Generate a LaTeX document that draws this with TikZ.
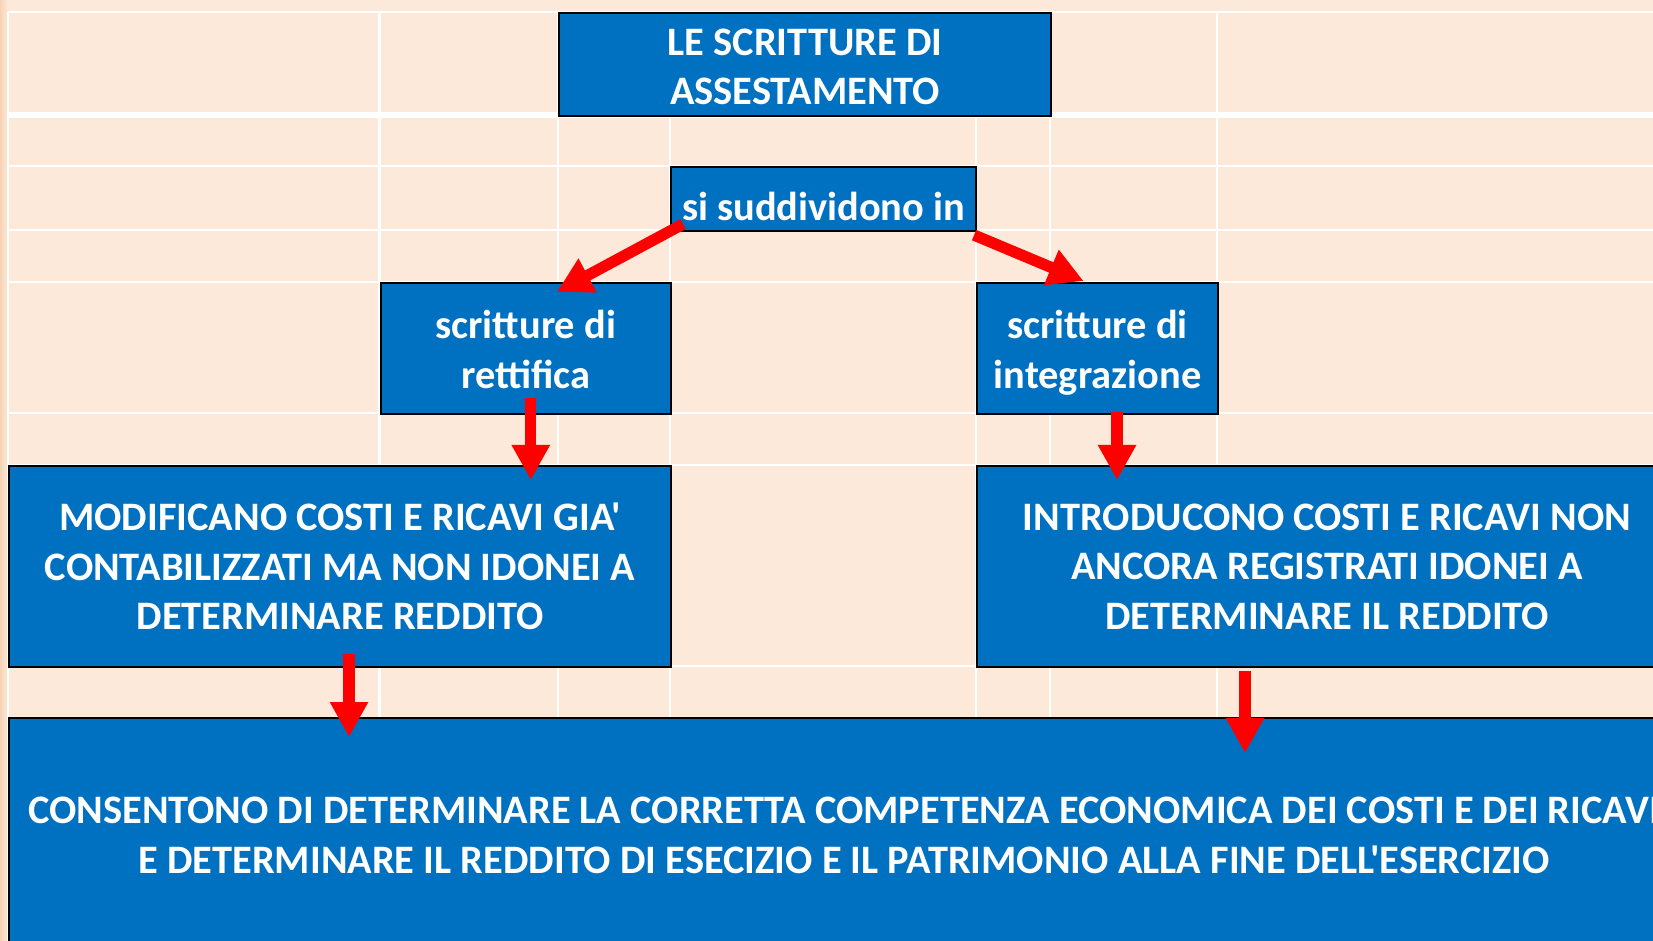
\documentclass[tikz,border=0pt]{standalone}
\usepackage{fontspec}
\setmainfont{Carlito}[Ligatures=TeXOff]
\usepackage{tikz}
\usetikzlibrary{calc,arrows.meta}
\definecolor{xlblue}{HTML}{0070C0}
\definecolor{xlred}{HTML}{FF0000}
\definecolor{peach}{HTML}{FDE9D9}
\definecolor{peachedge}{HTML}{F8D2B6}
\tikzstyle{cell} = [draw=black, line width=0.6pt, fill=xlblue, text=white, font=\fontsize{11.5}{14.1}\selectfont\bfseries, align=center, inner sep=0pt, anchor=north west]
\tikzstyle{gridline} = [draw=white, line width=0.7pt]
\tikzstyle{redarrow} = [->, draw=xlred, fill=xlred, line width=3.2pt]

\begin{document}
\begin{tikzpicture}[x=0.1mm,y=-0.1mm,>={Triangle[length=3.5mm,width=3.6mm]}]
		\clip (0,0) rectangle (1653,941);
		\fill[peach] (0,0) rectangle (1653,941);
		\shade[left color=peachedge, right color=peach] (0,0) rectangle (8,941);
		\foreach \gx in {8,379.5,558,670,976,1050,1217}
			\draw[gridline] (\gx,12) -- (\gx,941);
		\foreach \gy in {12,166,230,282,413,465,666,719}
			\draw[gridline] (8,\gy) -- (1653,\gy);
		\draw[gridline, line width=1.7pt] (8,115) -- (1653,115);
		
		\node (top) [cell, text height=22.8pt, text depth=0pt, minimum width=49.2mm, minimum height=10.3mm] at (558,12) {LE SCRITTURE DI\\ASSESTAMENTO};
		\node (split) [cell, text height=12.1pt, minimum width=30.5mm, minimum height=6.4mm] at (670,166) {si suddividono in};
		\node (rett) [cell, text height=22.6pt, text depth=0pt, minimum width=29.05mm, minimum height=13.1mm] at (379.5,282) {scritture di\\rettifica};
		\node (integ) [cell, text height=22.6pt, text depth=0pt, minimum width=24.1mm, minimum height=13.1mm] at (976,282) {scritture di\\integrazione};
		\node (modl) [cell, minimum width=66.2mm, minimum height=20.1mm] at (8,465) {MODIFICANO COSTI E RICAVI GIA'\\CONTABILIZZATI MA NON IDONEI A\\DETERMINARE REDDITO};
		\node (intr) [cell, minimum width=70mm, minimum height=20.1mm] at (976,465) {INTRODUCONO COSTI E RICAVI NON\\ANCORA REGISTRATI IDONEI A\\DETERMINARE IL REDDITO};
		\node (cons) [cell, minimum width=167mm, minimum height=23.5mm] at (8,717) {CONSENTONO DI DETERMINARE LA CORRETTA COMPETENZA ECONOMICA DEI COSTI E DEI RICAVI\\E DETERMINARE IL REDDITO DI ESECIZIO E IL PATRIMONIO ALLA FINE DELL'ESERCIZIO};
		
		\draw[redarrow] ($(split.south west)+(13,-8)$) -- ($(rett.north)+(31,10)$);
		\draw[redarrow] ($(split.south east)+(-3,3)$) -- ($(integ.north)+(-14,-1)$);
		\draw[redarrow] ($(rett.south)+(5,-17)$) -- ($(rett.south |- modl.north)+(5,15)$);
		\draw[redarrow] ($(integ.south)+(19.5,-3)$) -- ($(integ.south |- intr.north)+(19.5,15)$);
		\draw[redarrow] ($(modl.south)+(9,-14)$) -- ($(modl.south |- cons.north)+(9,20)$);
		\draw[redarrow] ($(intr.south)+(-82,3)$) -- ($(intr.south |- cons.north)+(-82,36)$);
	\end{tikzpicture}
\end{document}
